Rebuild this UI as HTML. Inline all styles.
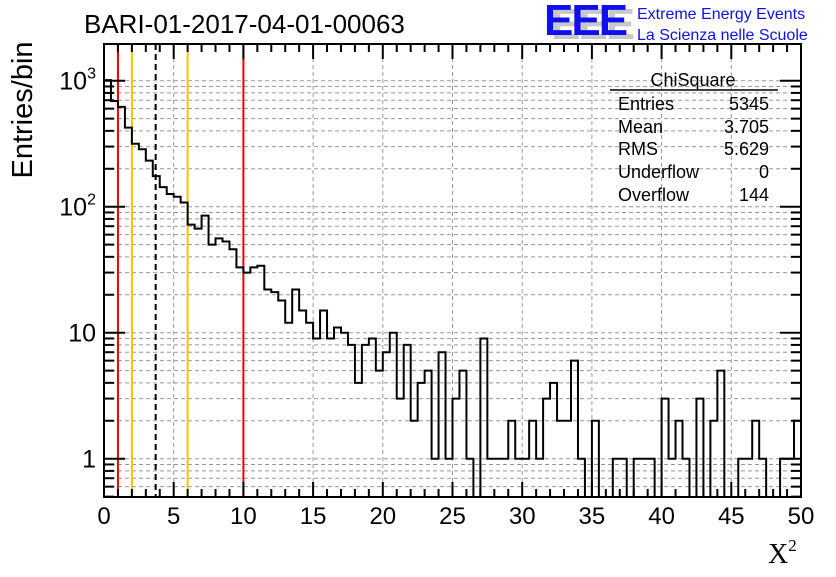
<!DOCTYPE html>
<html><head><meta charset="utf-8"><style>
body{margin:0;background:#fff;}
svg text{font-family:"Liberation Sans",sans-serif;}
</style></head><body>
<svg id="c" width="836" height="572" xmlns="http://www.w3.org/2000/svg">
<rect width="836" height="572" fill="#fff"/>
<g id="grid"></g>
<g id="marks"></g>
<g id="axes"></g>
<text x="84" y="33" font-size="26">BARI-01-2017-04-01-00063</text>
<text transform="translate(32,110) rotate(-90)" text-anchor="middle" font-size="29">Entries/bin</text>
<text x="768" y="563" font-size="28" style="font-family:'Liberation Serif',serif">X<tspan font-size="17" dy="-12">2</tspan></text>
<g>
<text x="551" y="39" font-size="44" font-weight="bold" fill="#c8c8c8" letter-spacing="-2">EEE</text>
<text x="544" y="35" font-size="44" font-weight="bold" fill="#1010ee" letter-spacing="-2">EEE</text>
<text x="637" y="19" font-size="16" fill="#1010ee">Extreme Energy Events</text>
<text x="637" y="40" font-size="16" fill="#1010ee">La Scienza nelle Scuole</text>
</g>
<g font-size="18">
<text x="693" y="86" text-anchor="middle">ChiSquare</text>
<line x1="610" y1="90" x2="778" y2="90" stroke="#000" stroke-width="1.5"/>
<text x="618" y="110">Entries</text><text x="769" y="110" text-anchor="end">5345</text>
<text x="618" y="133">Mean</text><text x="769" y="133" text-anchor="end">3.705</text>
<text x="618" y="155">RMS</text><text x="769" y="155" text-anchor="end">5.629</text>
<text x="618" y="178">Underflow</text><text x="769" y="178" text-anchor="end">0</text>
<text x="618" y="201">Overflow</text><text x="769" y="201" text-anchor="end">144</text>
</g>
</svg>
<script>
const binCounts=[1010,690,620,424,316,286,232,175,143,126,120,108,72,67,85,50,56,53,46,33,30,33,34,22,21,18,12,22,15,12,9,15,9,11,10,8,4,8,9,5,7,10,3,8,2,4,5,1,7,1,3,5,1,0,9,1,1,1,2,1,1,2,1,3,4,2,2,6,1,0,2,0,0,1,1,0,1,1,1,0,3,1,2,1,0,3,0,2,5,0,0,1,1,2,1,0,0,1,1,2];
const xTickLabels=[0,5,10,15,20,25,30,35,40,45,50];
const yTickValues=[1,10,100,1000];
const yTickBase=["1","10","10","10"];
const yTickExp=["","","2","3"];
const cutLines=[1,2,6,10];
const cutColors=["#ee0000","#ffc000","#ffc000","#ee0000"];
const meanValue=3.705;
const xMin=0,xMax=50,binWidth=0.5;
const L=104,R=801,T=44,B=497;
const Y1=458.7,DEC=126;
const NS="http://www.w3.org/2000/svg";
function X(v){return L+(v-xMin)/(xMax-xMin)*(R-L);}
function Y(v){if(v<=0)return B;return Math.max(T,Math.min(B,Y1-Math.log10(v)*DEC));}
function mk(parent,tag,attrs){const e=document.createElementNS(NS,tag);for(const k in attrs)e.setAttribute(k,attrs[k]);(typeof parent==='string'?document.getElementById(parent):parent).appendChild(e);return e;}
for(const t of xTickLabels){if(t===xMin||t===xMax)continue;
 const g=mk('grid','line',{x1:X(t),x2:X(t),y1:T,y2:B,stroke:'#999','stroke-dasharray':'4,3','stroke-width':1});
 
 }
for(let d=-1;d<=3;d++)for(let m=1;m<=9;m++){const v=m*Math.pow(10,d);const y=Y1-Math.log10(v)*DEC;if(y<T||y>B)continue;
 const g=mk('grid','line',{x1:L,x2:R,y1:y,y2:y,stroke:'#999','stroke-dasharray':'4,3','stroke-width':1});
 
 }
cutLines.forEach((c,i)=>{const l=mk('marks','line',{x1:X(c),x2:X(c),y1:T,y2:B,stroke:cutColors[i],'stroke-width':2});
 
 });
const ml=mk('marks','line',{x1:X(meanValue),x2:X(meanValue),y1:T,y2:B,stroke:'#000','stroke-width':2,'stroke-dasharray':'6,4'});


let d='M'+X(0)+','+B;
binCounts.forEach((c,i)=>{const y=Y(c);d+=' L'+X(i*binWidth)+','+y+' L'+X((i+1)*binWidth)+','+y;});
d+=' L'+X(binCounts.length*binWidth)+','+B;
const h=mk('marks','path',{d:d,fill:'none',stroke:'#000','stroke-width':2});


const f=mk('axes','rect',{x:L,y:T,width:R-L,height:B-T,fill:'none',stroke:'#000','stroke-width':2});


for(let v=xMin;v<=xMax;v++){const len=v%5===0?15:8;
 for(const [y0,s] of [[B,-1],[T,1]]){const t=mk('axes','line',{x1:X(v),x2:X(v),y1:y0,y2:y0+s*len,stroke:'#000','stroke-width':2});
 
 }}
xTickLabels.forEach(t=>{const e=mk('axes','text',{x:X(t),y:524,'text-anchor':'middle','font-size':24});e.textContent=t;
 
 });
for(let d2=-1;d2<=3;d2++)for(let m=1;m<=9;m++){const v=m*Math.pow(10,d2);const y=Y1-Math.log10(v)*DEC;if(y<T||y>B)continue;const len=m===1?21:10;
 for(const [x0,s] of [[L,1],[R,-1]]){const t=mk('axes','line',{x1:x0,x2:x0+s*len,y1:y,y2:y,stroke:'#000','stroke-width':2});
 
 }}
yTickValues.forEach((v,i)=>{const e=mk('axes','text',{x:96,y:Y(v)+9,'text-anchor':'end','font-size':25});
 const b=mk(e,'tspan',{});b.textContent=yTickBase[i];
 if(yTickExp[i]){const s=mk(e,'tspan',{'font-size':16,dy:-11});s.textContent=yTickExp[i];}
 
 });
</script>
</body></html>
